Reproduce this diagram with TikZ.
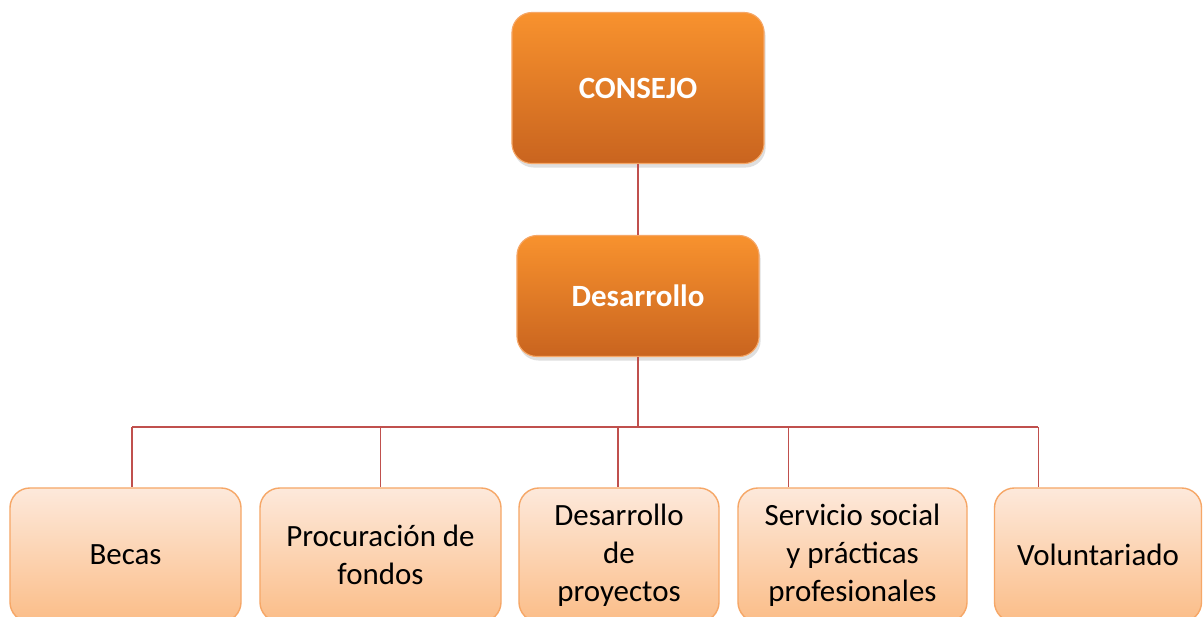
\documentclass[tikz,border=0pt]{standalone}
\usepackage{fontspec}
\setmainfont{Carlito}
\usepackage{xcolor}
\usepackage{tikz}
\usetikzlibrary{calc,positioning,shadows}

\definecolor{naranja}{HTML}{F8922E}
\definecolor{naranjaosc}{HTML}{C9641F}
\definecolor{durazno}{HTML}{FDE9DB}
\definecolor{duraznoosc}{HTML}{FBBD88}
\definecolor{bordeclaro}{HTML}{F6A767}
\definecolor{linea}{HTML}{C0504D}

\tikzset{
  jefe/.style={draw=bordeclaro, line width=0.8pt, rounded corners=0.5cm, top color=naranja, bottom color=naranjaosc,
    text=white, font=\fontsize{22}{27}\selectfont\bfseries, align=center, inner sep=0pt,
    drop shadow={opacity=0.25, shadow xshift=0.04cm, shadow yshift=-0.1cm}},
  area/.style={draw=bordeclaro, line width=1pt, rounded corners=0.5cm, top color=durazno, bottom color=duraznoosc,
    text=black, font=\fontsize{22}{27}\selectfont, align=center, inner sep=0pt, minimum height=3.35cm},
  enlace/.style={draw=linea, line width=0.8pt}
}

\begin{document}
\begin{tikzpicture}[x=0.025cm, y=-0.025cm]
  \useasboundingbox (0,0) rectangle (1203,617);
  \fill[white] (0,0) rectangle (1203,617);
  \clip (0,0) rectangle (1203,617);
  % cabeza
  \node[jefe, minimum width=6.3cm, minimum height=3.775cm] (consejo) at (638,88) {CONSEJO};
  \node[jefe, minimum width=6.05cm, minimum height=3.025cm] (desarrollo) at (638,296) {Desarrollo};
  % areas
  \node[area, minimum width=5.775cm] (becas) at (125.5,555) {Becas};
  \node[area, minimum width=6.025cm] (fondos) at (380.5,555) {Procuración de\\fondos};
  \node[area, minimum width=5cm] (proyectos) at (619,555) {Desarrollo\\de\\proyectos};
  \node[area, minimum width=5.725cm] (servicio) at (852.5,555) {Servicio social\\y prácticas\\profesionales};
  \node[area, minimum width=5.175cm] (voluntariado) at (1098,555) {Voluntariado};
  % puntos de enganche
  \coordinate (bus) at (0,427);
  \coordinate (hbecas) at ($(becas.north west)!0.528!(becas.north east)$);
  \coordinate (hfondos) at ($(fondos.north west)!0.5!(fondos.north east)$);
  \coordinate (hproyectos) at ($(proyectos.north west)!0.495!(proyectos.north east)$);
  \coordinate (hservicio) at ($(servicio.north west)!0.223!(servicio.north east)$);
  \coordinate (hvoluntariado) at ($(voluntariado.north west)!0.213!(voluntariado.north east)$);
  % lineas
  \draw[enlace] (consejo.south) -- (desarrollo.north);
  \draw[enlace] (desarrollo.south) -- (desarrollo.south |- bus);
  \draw[enlace] (hbecas |- bus) -- (hvoluntariado |- bus);
  \draw[enlace] (hbecas |- bus) -- (hbecas);
  \draw[enlace] (hfondos |- bus) -- (hfondos);
  \draw[enlace] (hproyectos |- bus) -- (hproyectos);
  \draw[enlace] (hservicio |- bus) -- (hservicio);
  \draw[enlace] (hvoluntariado |- bus) -- (hvoluntariado);
\end{tikzpicture}
\end{document}
